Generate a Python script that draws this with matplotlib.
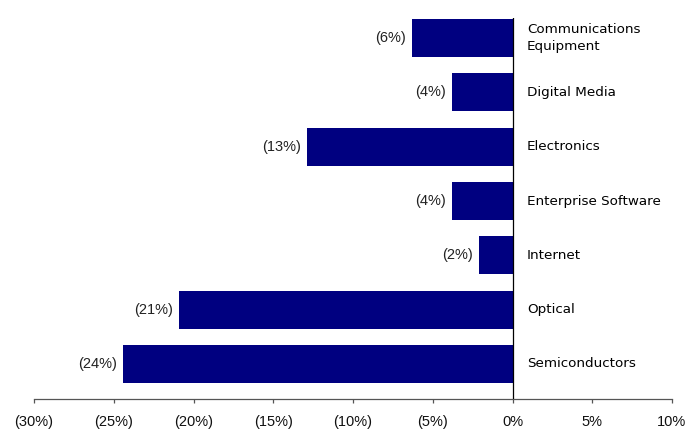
import matplotlib
matplotlib.use("Agg")
import matplotlib.pyplot as plt
from matplotlib.ticker import FuncFormatter

# sector returns, in percent
sectors = ["Communications\nEquipment", "Digital Media", "Electronics",
           "Enterprise Software", "Internet", "Optical", "Semiconductors"]
returns = [-6.3, -3.8, -12.9, -3.8, -2.1, -20.9, -24.4]
ticks = [-30, -25, -20, -15, -10, -5, 0, 5, 10]

bar_color = "#000080"


def pct(v, pos=None):
    v = round(v)
    if v < 0:
        return "({:d}%)".format(-v)
    return "{:d}%".format(v)


fig = plt.figure(figsize=(7.0, 4.29), dpi=100)
ax = fig.add_axes([34 / 700, 30 / 429, 638 / 700, 381 / 429])

pos = list(range(len(sectors)))
ax.barh(pos, returns, height=0.7, color=bar_color, zorder=2)

ax.set_xlim(-30, 10)
ax.set_ylim(6.645, -0.37)
ax.axvline(0, color="black", lw=0.9, zorder=3)

for y, v, name in zip(pos, returns, sectors):
    ax.annotate(pct(v), (v, y), xytext=(-4.3, 0), textcoords="offset points",
                ha="right", va="center", fontsize=10.5, family="Liberation Sans",
                color="#222222")
    ax.annotate(name, (0, y), xytext=(10.5, 0), textcoords="offset points",
                ha="left", va="center", fontsize=9.7, family="DejaVu Sans",
                linespacing=1.45, color="black")

ax.set_xticks(ticks)
ax.xaxis.set_major_formatter(FuncFormatter(pct))
ax.tick_params(axis="x", direction="out", length=3.2, width=0.9, colors="#555555",
               labelcolor="#111111", labelsize=10.5, pad=8)
for lab in ax.get_xticklabels():
    lab.set_family("Liberation Sans")
ax.set_yticks([])

for side in ["top", "right", "left"]:
    ax.spines[side].set_visible(False)
ax.spines["bottom"].set_color("#555555")
ax.spines["bottom"].set_linewidth(0.9)

fig.savefig("out.png", dpi=100)
